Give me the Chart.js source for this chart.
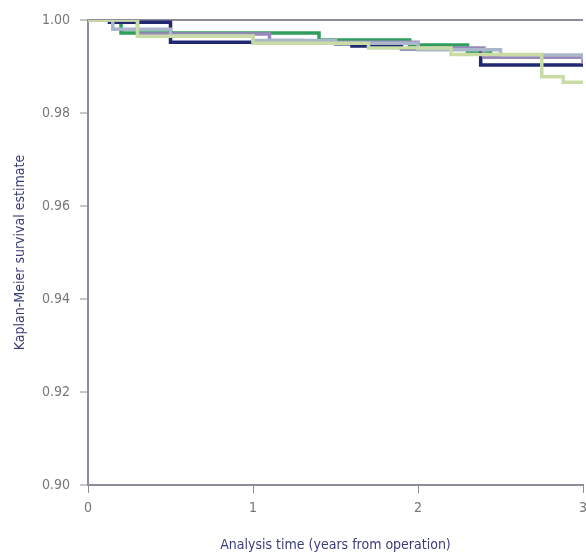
<!DOCTYPE html>
<html lang="en">
<head>
    <meta charset="UTF-8">
    <title>Kaplan-Meier</title>
    <script src="https://cdn.jsdelivr.net/npm/chart.js"></script>
    <style>
        body { margin: 0; background: #fff; }
        #wrap { width: 586px; height: 558px; }
    </style>
</head>
<body>
    <div id="wrap"><canvas id="km"></canvas></div>
<script>
    // tempo (anos) e estimativa de sobrevida
    const tempoNavy = [0, 0.13, 0.5, 1.0, 1.5, 1.6, 1.9, 2.38, 3.0];
    const survNavy = [1.0, 0.9995, 0.9952, 0.9951, 0.9949, 0.9944, 0.9938, 0.9903, 0.9902];

    const tempoVerde = [0, 0.2, 1.4, 1.95, 2.3, 2.44, 3.0];
    const survVerde = [1.0, 0.9972, 0.9957, 0.9946, 0.9932, 0.9923, 0.9922];

    const tempoCinza = [0, 0.15, 0.5, 1.0, 1.5, 2.0, 2.5, 3.0];
    const survCinza = [1.0, 0.998, 0.9966, 0.9956, 0.995, 0.9936, 0.9925, 0.9915];

    const tempoRoxo = [0, 0.3, 1.1, 1.3, 2.0, 2.4, 3.0];
    const survRoxo = [1.0, 0.997, 0.9956, 0.9952, 0.994, 0.992, 0.9906];

    const tempoVerdeClaro = [0, 0.3, 1.0, 1.7, 2.2, 2.75, 2.88, 3.0];
    const survVerdeClaro = [1.0, 0.9965, 0.995, 0.994, 0.9926, 0.9878, 0.9866, 0.9866];

    const ticksX = [0, 1, 2, 3];
    const ticksY = [0.90, 0.92, 0.94, 0.96, 0.98, 1.00];

    function pontos(t, s) {
        return t.map((v, i) => ({ x: v, y: s[i] }));
    }

    function serie(t, s, cor, largura) {
        return {
            data: pontos(t, s),
            borderColor: cor,
            borderWidth: largura,
            stepped: 'before',
            pointRadius: 0,
            fill: false
        };
    }

    const fonte = "'DejaVu Sans Condensed', 'Liberation Sans Narrow', 'Liberation Sans', sans-serif";
    const cinzaEixo = '#8c8c9a';

    new Chart(document.getElementById('km'), {
        type: 'line',
        data: {
            datasets: [
                serie(tempoVerdeClaro, survVerdeClaro, '#c9dca6', 3.5),
                serie(tempoCinza, survCinza, '#aab6c9', 3.5),
                serie(tempoRoxo, survRoxo, '#9a88bb', 3.5),
                serie(tempoNavy, survNavy, '#1f2870', 3.5),
                serie(tempoVerde, survVerde, '#2f9d5c', 3.5)
            ]
        },
        options: {
            responsive: true,
            maintainAspectRatio: false,
            animation: false,
            layout: { padding: { top: 20, right: 3, left: 8, bottom: 0 } },
            plugins: { legend: { display: false }, tooltip: { enabled: false } },
            scales: {
                x: {
                    type: 'linear',
                    min: 0,
                    max: 3,
                    afterBuildTicks: s => { s.ticks = ticksX.map(v => ({ value: v })); },
                    afterFit: s => { s.height = 73; s.paddingRight = 0; },
                    grid: { drawOnChartArea: false, tickLength: 8, tickColor: cinzaEixo, tickWidth: 1 },
                    border: { color: cinzaEixo, width: 2 },
                    ticks: { color: '#777', font: { family: fonte, size: 14 }, padding: 7 },
                    title: {
                        display: true,
                        text: 'Analysis time (years from operation)',
                        color: '#3b3b7a',
                        font: { family: fonte, size: 14 },
                        padding: { top: 10 }
                    }
                },
                y: {
                    type: 'linear',
                    min: 0.9,
                    max: 1.0,
                    afterBuildTicks: s => { s.ticks = ticksY.map(v => ({ value: v })); },
                    afterFit: s => { s.width = 80; },
                    grid: {
                        color: c => (c.tick && Math.abs(c.tick.value - 1.0) < 1e-9) ? cinzaEixo : 'rgba(0,0,0,0)',
                        lineWidth: 2,
                        tickLength: 8,
                        tickColor: cinzaEixo,
                        tickWidth: 1
                    },
                    border: { color: cinzaEixo, width: 2 },
                    ticks: {
                        color: '#777',
                        font: { family: fonte, size: 14 },
                        padding: 10,
                        callback: v => v.toFixed(2)
                    },
                    title: {
                        display: true,
                        text: 'Kaplan-Meier survival estimate',
                        color: '#3b3b7a',
                        font: { family: fonte, size: 14 },
                        padding: { bottom: 6 }
                    }
                }
            }
        }
    });
</script>
</body>
</html>
